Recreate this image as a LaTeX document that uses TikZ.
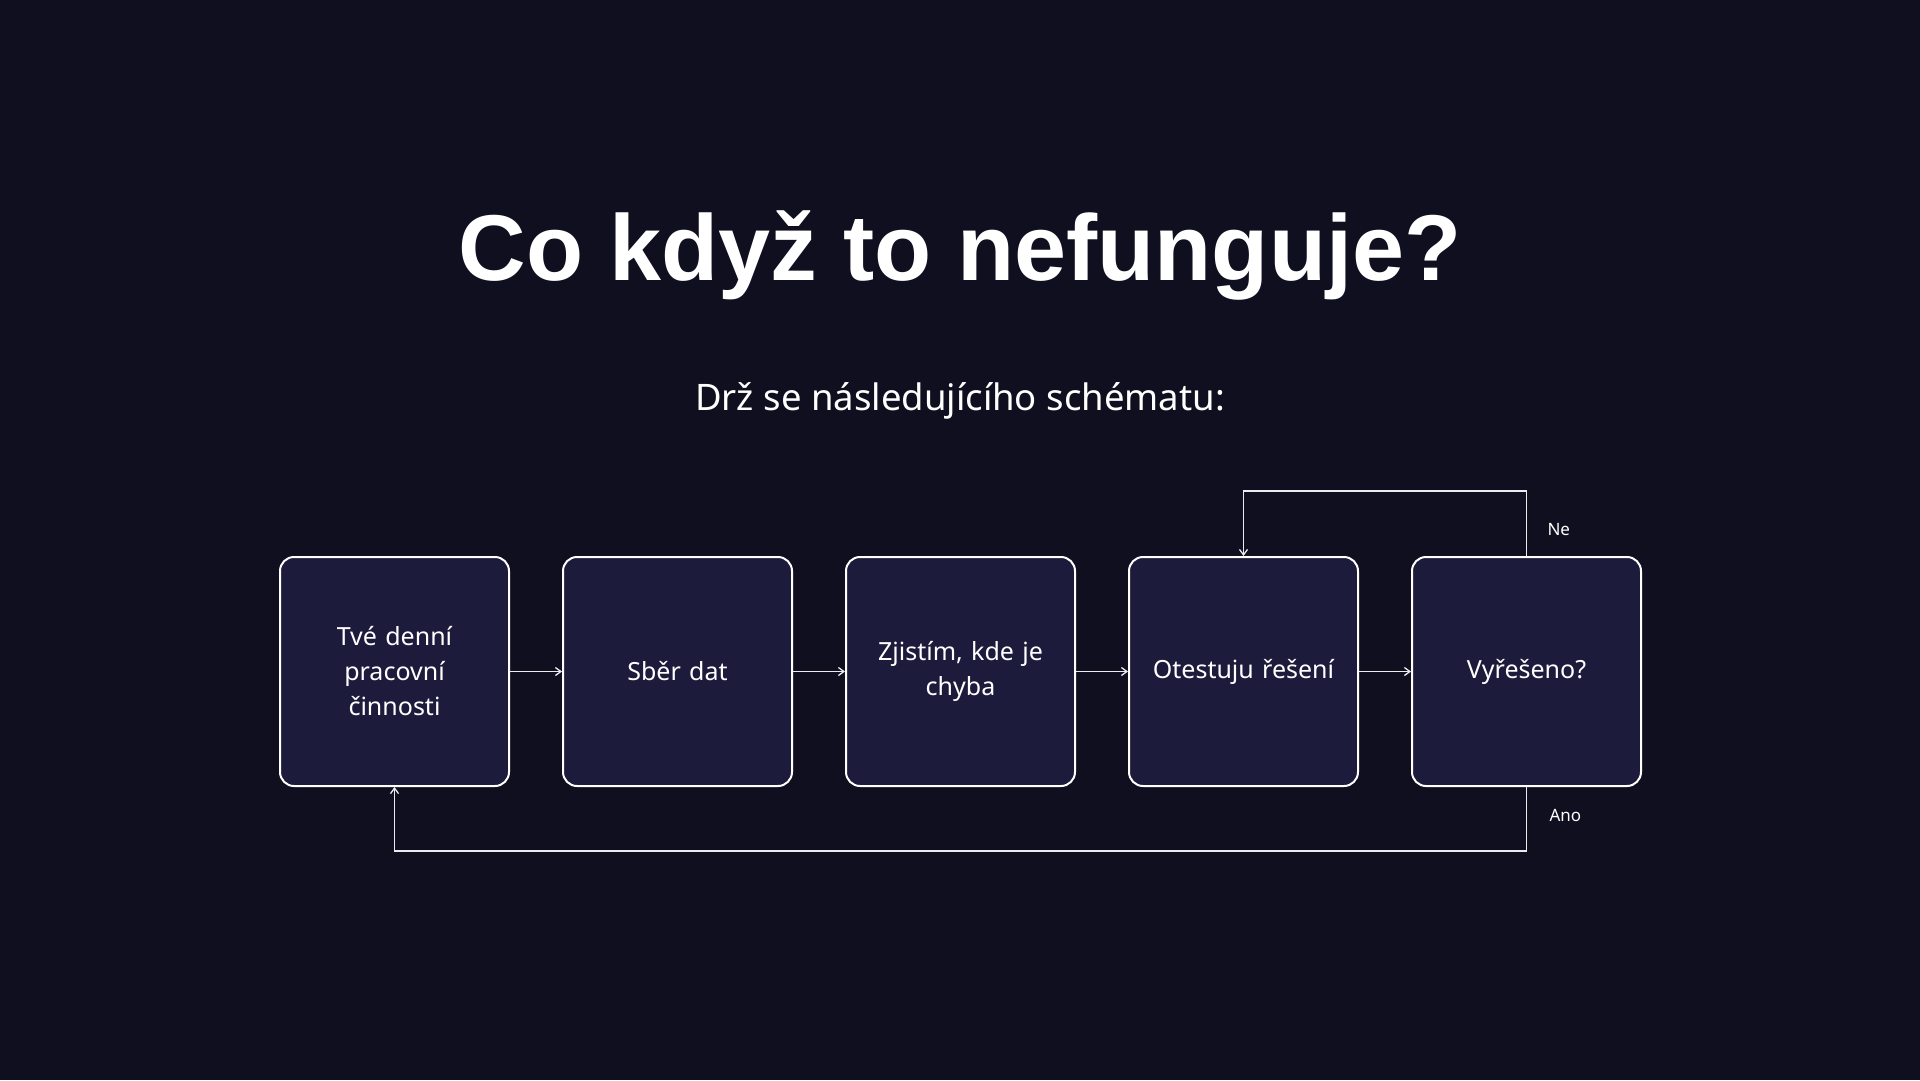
\documentclass[tikz,border=0pt]{standalone}
\usepackage{fontspec}
\setmainfont{Noto Sans}
\newfontfamily\titlefont{Liberation Sans}
\usetikzlibrary{arrows.meta}
\definecolor{bgcol}{RGB}{15,15,32}
\definecolor{boxcol}{RGB}{29,27,60}
\definecolor{linecol}{RGB}{235,235,240}
\tikzset{
  stepbox/.style={draw=white, line width=2pt, fill=boxcol, rounded corners=14pt,
    minimum width=229pt, minimum height=229pt, text width=205pt, align=center,
    text=white, font=\fontsize{25}{35}\selectfont},
  conn/.style={draw=linecol, line width=1.6pt, -{Straight Barb[length=5.5pt,width=8pt,line width=1.3pt]}},
  lbl/.style={text=white, font=\fontsize{17}{20}\selectfont}
}
\begin{document}
\begin{tikzpicture}[x=1pt,y=-1pt]
\fill[bgcol] (0,0) rectangle (1920,1080);
\useasboundingbox (0,0) rectangle (1920,1080);
\node[text=white, font=\titlefont\fontsize{93.5}{105}\selectfont\bfseries] (title) at (960,255) {Co když to nefunguje?};
\node[text=white, font=\fontsize{36.5}{44}\selectfont] (sub) at (960,401) {Drž se následujícího schématu:};
\node[stepbox] (b1) at (394.5,671.5) {Tvé denní\\pracovní\\činnosti};
\node[stepbox] (b2) at (677.5,671.5) {Sběr dat};
\node[stepbox] (b3) at (960.5,671.5) {Zjistím, kde je\\chyba};
\node[stepbox] (b4) at (1243.5,671.5) {Otestuju řešení};
\node[stepbox] (b5) at (1526.5,671.5) {Vyřešeno?};
\draw[conn] (b1.east) -- (b2.west);
\draw[conn] (b2.east) -- (b3.west);
\draw[conn] (b3.east) -- (b4.west);
\draw[conn] (b4.east) -- (b5.west);
\coordinate (neT) at (1526.5,491);
\coordinate (neL) at (1243.5,491);
\draw[conn] (b5.north) -- (neT) -- (neL) -- (b4.north);
\coordinate (anoB) at (1526.5,851);
\coordinate (anoL) at (394.5,851);
\draw[conn] (b5.south) -- (anoB) -- (anoL) -- (b1.south);
\node[lbl, anchor=west] (ne) at (1544,530) {Ne};
\node[lbl, anchor=west] (ano) at (1546,815) {Ano};
\end{tikzpicture}
\end{document}
